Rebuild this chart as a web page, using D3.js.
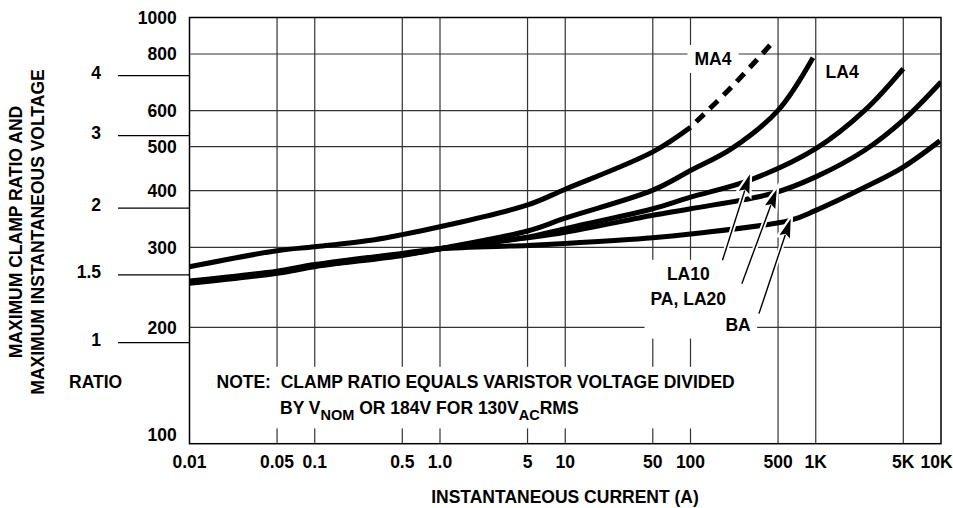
<!DOCTYPE html>
<html>
<head>
<meta charset="utf-8">
<script src="https://cdn.jsdelivr.net/npm/d3@7"></script>
<style>
  body { margin: 0; background: #fff; }
  svg { display: block; font-family: "Liberation Sans", Arial, sans-serif; font-weight: bold; }
</style>
</head>
<body>
<div id="chart"></div>
<script>
// Axis ticks
const currentTicks = [0.01, 0.05, 0.1, 0.5, 1, 5, 10, 50, 100, 500, 1000, 5000, 10000]
const currentLabels = ["0.01", "0.05", "0.1", "0.5", "1.0", "5", "10", "50", "100", "500", "1K", "5K", "10K"]
const voltTicks = [100, 200, 300, 400, 500, 600, 800, 1000]
const ratioLabels = ["1", "1.5", "2", "3", "4"]
const ratioVolts = [185, 261, 366, 529, 717]   // where each ratio mark sits on the volt scale

// Curves, [current A, voltage V]
const ma4 = [[0.01, 272], [0.05, 295], [0.1, 301], [0.3, 312], [0.5, 320], [1, 333], [5, 372], [10, 403], [50, 487], [100, 552]]
const ma4Dashed = [[100, 552], [213, 677], [464, 855]]
const la4 = [[0.01, 250], [0.05, 263], [0.1, 272], [0.5, 288], [1, 298], [5, 326], [10, 348], [50, 401], [100, 443], [213, 495], [500, 601], [950, 785]]
const la10 = [[0.01, 251], [0.05, 264], [0.1, 273], [0.5, 289], [1, 298], [5, 316], [10, 330], [50, 365], [100, 387], [298, 422], [1000, 495], [2460, 601], [5000, 743]]
const pa = [[0.01, 252], [0.05, 265], [0.1, 274], [0.5, 290], [1, 298], [5, 315], [10, 324], [50, 353], [100, 365], [445, 394], [1000, 429], [2460, 491], [5000, 572], [10000, 694]]
const ba = [[0.01, 253], [0.05, 266], [0.1, 275], [0.5, 291], [1, 298], [5, 303], [10, 306], [50, 315], [100, 321], [623, 344], [1000, 362], [2460, 407], [5000, 451], [9800, 515]]

// Curve labels and arrows (data coords)
const curveLabels = [
  {text: "MA4", at: [151, 781]},
  {text: "LA4", at: [1624, 730]}
]
const pointerLabels = [
  {text: "LA10", at: [96, 262.6]},
  {text: "PA, LA20", at: [96, 231.4]},
  {text: "BA", at: [240, 203]}
]
const arrows = [
  {from: [180, 281], to: [298, 434.6]},
  {from: [257, 249.6], to: [488, 402.8]},
  {from: [352, 214.4], to: [631, 347]}
]

const width = 953, height = 508
const frame = {left: 189.5, right: 941, top: 17.5, bottom: 443.7}
const fs = 17.5

var svg = d3.select("#chart")
  .append("svg")
  .attr("width", width)
  .attr("height", height)

const x = d3.scaleLog()
  .domain([0.01, 10000])
  .range([frame.left, frame.right])
// the 200..800 grid runs on a slightly longer decade than the frame
const y = d3.scaleLog()
  .domain([100, 1000])
  .range([464, 10])

// Grid
const grid = svg.append("g").attr("stroke", "#333").attr("stroke-width", 1.2)
grid.selectAll(".vgrid")
  .data(currentTicks.slice(1, -1))
  .enter()
  .append("line")
    .attr("x1", d => x(d))
    .attr("x2", d => x(d))
    .attr("y1", frame.top)
    .attr("y2", frame.bottom)
grid.selectAll(".hgrid")
  .data(voltTicks.slice(1, -1))
  .enter()
  .append("line")
    .attr("x1", frame.left)
    .attr("x2", frame.right)
    .attr("y1", d => y(d))
    .attr("y2", d => y(d))

// White boxes that break the grid behind text
const boxes = svg.append("g")
const annot = svg.append("g")

function boxBehind(sel, padX, padY) {
  let x0 = Infinity, y0 = Infinity, x1 = -Infinity, y1 = -Infinity
  sel.each(function() {
    const b = this.getBBox()
    x0 = Math.min(x0, b.x); y0 = Math.min(y0, b.y)
    x1 = Math.max(x1, b.x + b.width); y1 = Math.max(y1, b.y + b.height)
  })
  boxes.append("rect")
    .attr("x", x0 - padX).attr("y", y0 - padY)
    .attr("width", x1 - x0 + 2 * padX).attr("height", y1 - y0 + 2 * padY)
    .attr("fill", "#fff")
}

// Note
const note = annot.append("g").attr("font-size", fs)
note.append("text")
  .attr("x", frame.left + 27)
  .attr("y", 387.8)
  .attr("xml:space", "preserve")
  .text("NOTE:  CLAMP RATIO EQUALS VARISTOR VOLTAGE DIVIDED")
const note2 = note.append("text")
  .attr("x", frame.left + 90.5)
  .attr("y", 414.4)
note2.append("tspan").text("BY V")
note2.append("tspan").attr("font-size", 14.5).attr("dy", 6).text("NOM")
note2.append("tspan").attr("dy", -6).text(" OR 184V FOR 130V")
note2.append("tspan").attr("font-size", 14.5).attr("dy", 6).text("AC")
note2.append("tspan").attr("dy", -6).text("RMS")
boxBehind(note.selectAll("text"), 6, 5)

// Frame
svg.append("rect")
  .attr("x", frame.left)
  .attr("y", frame.top)
  .attr("width", frame.right - frame.left)
  .attr("height", frame.bottom - frame.top)
  .attr("fill", "none")
  .attr("stroke", "#000")
  .attr("stroke-width", 1.5)

// Curves
svg.append("clipPath").attr("id", "clip")
  .append("rect")
  .attr("x", frame.left).attr("y", frame.top)
  .attr("width", frame.right - frame.left).attr("height", frame.bottom - frame.top)

const line = d3.line()
  .x(d => x(d[0]))
  .y(d => y(d[1]))
  .curve(d3.curveCatmullRom.alpha(0.5))

const curves = svg.append("g")
  .attr("clip-path", "url(#clip)")
  .attr("fill", "none")
  .attr("stroke", "#000")
  .attr("stroke-width", 5)
  .attr("stroke-linejoin", "round")

curves.selectAll(".curve")
  .data([ba, pa, la10, la4, ma4])
  .enter()
  .append("path")
    .attr("class", "curve")
    .attr("d", line)
curves.append("path")
  .attr("d", line(ma4Dashed))
  .attr("stroke-dasharray", "11 8")
  .attr("stroke-dashoffset", 11)

// Arrows with a white halo
function arrowParts(a) {
  const t = [x(a.from[0]), y(a.from[1])], h = [x(a.to[0]), y(a.to[1])]
  const dx = h[0] - t[0], dy = h[1] - t[1], len = Math.hypot(dx, dy)
  const ux = dx / len, uy = dy / len
  const bx = h[0] - ux * 19, by = h[1] - uy * 19
  return {
    shaft: [t, [bx + ux * 2, by + uy * 2]],
    head: [h, [bx - uy * 5.5, by + ux * 5.5], [bx + ux * 3, by + uy * 3], [bx + uy * 5.5, by - ux * 5.5]]
  }
}
const arrowG = svg.append("g")
arrows.forEach(a => {
  const p = arrowParts(a)
  arrowG.append("path").attr("d", d3.line()(p.shaft)).attr("stroke", "#fff").attr("stroke-width", 5)
  arrowG.append("path").attr("d", d3.line()(p.head) + "Z").attr("fill", "#fff").attr("stroke", "#fff").attr("stroke-width", 4.5)
})
arrows.forEach(a => {
  const p = arrowParts(a)
  arrowG.append("path").attr("d", d3.line()(p.shaft)).attr("stroke", "#000").attr("stroke-width", 1.4)
  arrowG.append("path").attr("d", d3.line()(p.head) + "Z").attr("fill", "#000")
})

// Curve labels
const lab1 = annot.selectAll(".clab")
  .data(curveLabels)
  .enter()
  .append("text")
    .attr("class", "clab")
    .attr("x", d => x(d.at[0]))
    .attr("y", d => y(d.at[1]) + 6.2)
    .attr("text-anchor", "middle")
    .attr("font-size", fs)
    .text(d => d.text)
boxBehind(lab1.filter(d => d.text === "MA4"), 7, 4)

const lab2 = annot.selectAll(".plab")
  .data(pointerLabels)
  .enter()
  .append("text")
    .attr("class", "plab")
    .attr("x", d => x(d.at[0]))
    .attr("y", d => y(d.at[1]) + 6.2)
    .attr("text-anchor", "middle")
    .attr("font-size", fs)
    .text(d => d.text)
boxBehind(lab2, 6, 4)
annot.raise()

// Voltage tick labels
svg.append("g")
  .selectAll("text")
  .data(voltTicks)
  .enter()
  .append("text")
    .attr("x", 176.7)
    .attr("y", d => Math.max(frame.top, Math.min(frame.bottom - 9, y(d))) + 6.2)
    .attr("text-anchor", "end")
    .attr("font-size", fs)
    .text(d => d)

// Ratio ticks
const ratioG = svg.append("g")
ratioG.selectAll("line")
  .data(ratioVolts)
  .enter()
  .append("line")
    .attr("x1", 118)
    .attr("x2", frame.left)
    .attr("y1", d => y(d))
    .attr("y2", d => y(d))
    .attr("stroke", "#000")
    .attr("stroke-width", 1.3)
ratioG.selectAll("text")
  .data(ratioVolts)
  .enter()
  .append("text")
    .attr("x", 101)
    .attr("y", d => y(d) + 3)
    .attr("text-anchor", "end")
    .attr("font-size", fs)
    .text((d, i) => ratioLabels[i])
ratioG.append("text")
  .attr("x", 69)
  .attr("y", 387.8)
  .attr("font-size", fs)
  .text("RATIO")

// Current tick labels
svg.append("g")
  .selectAll("text")
  .data(currentTicks)
  .enter()
  .append("text")
    .attr("x", d => Math.min(x(d), width - 16.5))
    .attr("y", 467.8)
    .attr("text-anchor", "middle")
    .attr("font-size", fs)
    .text((d, i) => currentLabels[i])

// Axis titles
svg.append("text")
  .attr("x", 565)
  .attr("y", 502.8)
  .attr("text-anchor", "middle")
  .attr("font-size", fs)
  .text("INSTANTANEOUS CURRENT (A)")

svg.append("text")
  .attr("transform", "rotate(-90)")
  .attr("x", -232)
  .attr("y", 22.4)
  .attr("text-anchor", "middle")
  .attr("font-size", fs)
  .text("MAXIMUM CLAMP RATIO AND")
svg.append("text")
  .attr("transform", "rotate(-90)")
  .attr("x", -232)
  .attr("y", 44.4)
  .attr("text-anchor", "middle")
  .attr("font-size", fs)
  .text("MAXIMUM INSTANTANEOUS VOLTAGE")
</script>
</body>
</html>
